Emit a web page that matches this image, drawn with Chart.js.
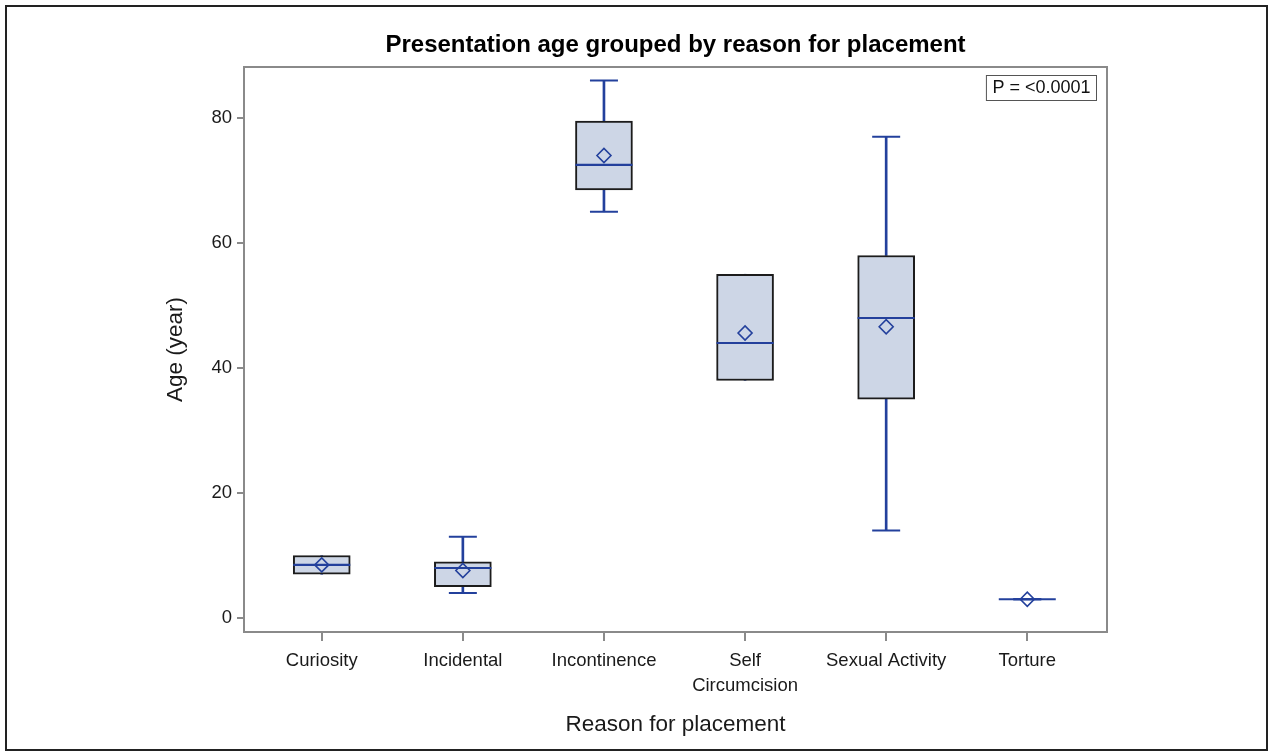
<!DOCTYPE html>
<html>
<head>
<meta charset="utf-8">
<title>Presentation age grouped by reason for placement</title>
<script src="https://cdn.jsdelivr.net/npm/chart.js@4/dist/chart.umd.min.js"></script>
<style>
  html, body { margin: 0; padding: 0; background: #fff; }
  #wrap { width: 1273px; height: 755px; position: relative; }
</style>
</head>
<body>
<div id="wrap"><canvas id="chart" width="1273" height="755"></canvas></div>
<script>
// Age (years) summary per reason for placement
const categories = ['Curiosity', 'Incidental', 'Incontinence', 'Self Circumcision', 'Sexual Activity', 'Torture'];
const tickLabels = [['Curiosity'], ['Incidental'], ['Incontinence'], ['Self', 'Circumcision'], ['Sexual Activity'], ['Torture']];
const minAge    = [7,   4,   65,   38,   14,   3];
const q1Age     = [7,   5,   68.5, 38,   35,   3];
const medianAge = [8.5, 8,   72.5, 44,   48,   3];
const q3Age     = [10,  9,   79.5, 55,   58,   3];
const maxAge    = [10,  13,  86,   55,   77,   3];
const meanAge   = [8.5, 7.6, 74,   45.6, 46.6, 3];
const yTicks = [0, 20, 40, 60, 80];
const chartTitle = 'Presentation age grouped by reason for placement';
const pValueText = 'P = <0.0001';

const FONT = "'Liberation Sans', Arial, sans-serif";
const BLUE = '#23409c';
const BOX_FILL = '#cdd6e6';
const BOX_EDGE = '#1c1c1c';
const AXIS_GREY = '#8a8a8a';
const BOX_W = 57;
const CAP_W = 28;

Chart.defaults.font.family = FONT;
Chart.defaults.color = '#1a1a1a';

const idx = categories.map((_, i) => i);
const pts = arr => arr.map((v, i) => ({ x: i, y: v }));

// caps only where a whisker actually extends beyond the box
const upperCapRadius = idx.map(i => (maxAge[i] > q3Age[i] || maxAge[i] === minAge[i]) ? CAP_W / 2 : 0);
const lowerCapRadius = idx.map(i => (minAge[i] < q1Age[i] || maxAge[i] === minAge[i]) ? CAP_W / 2 : 0);

// page frame, title, plot frame and the p-value box
const decorations = {
  id: 'decorations',
  beforeDraw(chart) {
    const { ctx, chartArea: a } = chart;
    ctx.save();
    ctx.fillStyle = '#fff';
    ctx.fillRect(0, 0, chart.width, chart.height);
    ctx.strokeStyle = '#222';
    ctx.lineWidth = 2;
    ctx.strokeRect(6, 6, chart.width - 12, chart.height - 11);

    ctx.font = 'bold 24px ' + FONT;
    ctx.fillStyle = '#000';
    ctx.textAlign = 'center';
    ctx.textBaseline = 'middle';
    ctx.fillText(chartTitle, (a.left + a.right) / 2, 45);
    ctx.restore();
  },
  afterDatasetsDraw(chart) {
    const { ctx, chartArea: a } = chart;
    ctx.save();
    ctx.strokeStyle = AXIS_GREY;
    ctx.lineWidth = 2;
    ctx.beginPath();
    ctx.moveTo(a.left, a.top);
    ctx.lineTo(a.right, a.top);
    ctx.lineTo(a.right, a.bottom);
    ctx.stroke();

    ctx.font = '18px ' + FONT;
    const tw = ctx.measureText(pValueText).width;
    const bw = tw + 12, bh = 25;
    const bx = a.right - 11 - bw, by = a.top + 8;
    ctx.fillStyle = '#fff';
    ctx.fillRect(bx, by, bw, bh);
    ctx.strokeStyle = '#555';
    ctx.lineWidth = 1;
    ctx.strokeRect(bx + 0.5, by + 0.5, bw, bh);
    ctx.fillStyle = '#111';
    ctx.textAlign = 'center';
    ctx.textBaseline = 'middle';
    ctx.fillText(pValueText, bx + bw / 2 + 0.5, by + bh / 2 + 1);
    ctx.restore();
  }
};

new Chart(document.getElementById('chart'), {
  type: 'bar',
  data: {
    datasets: [
      { // mean markers
        type: 'line', order: 1, showLine: false, clip: false,
        data: pts(meanAge),
        pointStyle: 'rectRot', pointRadius: 7, pointBorderWidth: 1.6,
        pointBorderColor: BLUE, pointBackgroundColor: 'rgba(0,0,0,0)'
      },
      { // medians
        type: 'line', order: 2, showLine: false, clip: false,
        data: pts(medianAge),
        pointStyle: 'line', pointRadius: BOX_W / 2, pointBorderWidth: 2.2,
        pointBorderColor: BLUE
      },
      { // boxes Q1..Q3
        type: 'bar', order: 3, grouped: false,
        data: idx.map(i => ({ x: i, y: [q1Age[i], q3Age[i]] })),
        backgroundColor: BOX_FILL, borderColor: BOX_EDGE, borderWidth: 2,
        borderSkipped: false, barThickness: BOX_W
      },
      { // upper whiskers
        type: 'bar', order: 4, grouped: false,
        data: idx.map(i => ({ x: i, y: [q3Age[i], maxAge[i]] })),
        backgroundColor: BLUE, borderWidth: 0, barThickness: 2
      },
      { // lower whiskers
        type: 'bar', order: 4, grouped: false,
        data: idx.map(i => ({ x: i, y: [minAge[i], q1Age[i]] })),
        backgroundColor: BLUE, borderWidth: 0, barThickness: 2
      },
      { // upper caps
        type: 'line', order: 5, showLine: false, clip: false,
        data: pts(maxAge),
        pointStyle: 'line', pointRadius: upperCapRadius, pointBorderWidth: 2,
        pointBorderColor: BLUE
      },
      { // lower caps
        type: 'line', order: 5, showLine: false, clip: false,
        data: pts(minAge),
        pointStyle: 'line', pointRadius: lowerCapRadius, pointBorderWidth: 2,
        pointBorderColor: BLUE
      }
    ]
  },
  options: {
    responsive: false,
    animation: false,
    events: [],
    layout: { padding: { left: 150, right: 166, top: 67, bottom: 0 } },
    plugins: {
      legend: { display: false },
      tooltip: { enabled: false },
      title: { display: false }
    },
    scales: {
      x: {
        type: 'linear',
        offset: false,
        min: -0.551, max: 5.565,
        afterFit(scale) { scale.height = 123; },
        afterBuildTicks(scale) { scale.ticks = idx.map(v => ({ value: v })); },
        ticks: {
          autoSkip: false, maxRotation: 0, padding: 7,
          font: { size: 18.5, lineHeight: 1.37 },
          color: '#1a1a1a',
          callback: v => tickLabels[v]
        },
        grid: { display: true, offset: false, drawOnChartArea: false, drawTicks: true, tickLength: 9, color: AXIS_GREY, lineWidth: 2 },
        border: { display: true, color: AXIS_GREY, width: 2 },
        title: { display: true, text: 'Reason for placement', font: { size: 22.5 }, color: '#1a1a1a', padding: { top: 0, bottom: 17 } }
      },
      y: {
        type: 'linear',
        min: -2.24, max: 88.16,
        afterFit(scale) { scale.width = 94; },
        afterBuildTicks(scale) { scale.ticks = yTicks.map(v => ({ value: v })); },
        ticks: { padding: 5, font: { size: 18.5 }, color: '#1a1a1a' },
        grid: { display: true, drawOnChartArea: false, drawTicks: true, tickLength: 7, color: AXIS_GREY, lineWidth: 2 },
        border: { display: true, color: AXIS_GREY, width: 2 },
        title: { display: true, text: 'Age (year)', font: { size: 22.5 }, color: '#1a1a1a', padding: { top: 12, bottom: 0 } }
      }
    }
  },
  plugins: [decorations]
});
</script>
</body>
</html>
